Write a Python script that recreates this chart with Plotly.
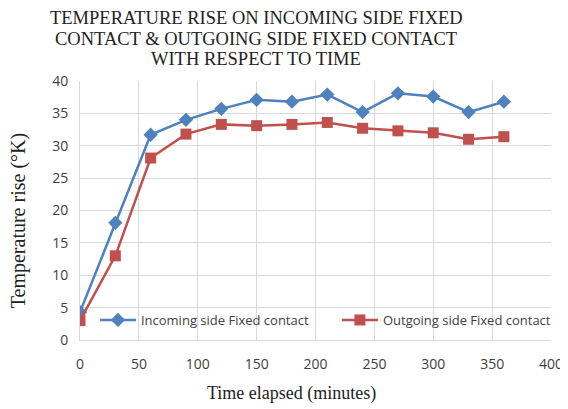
import plotly.graph_objects as go

time_min = [0, 30, 60, 90, 120, 150, 180, 210, 240, 270, 300, 330, 360]
incoming = [4.3, 18.1, 31.7, 34.0, 35.7, 37.1, 36.8, 37.9, 35.2, 38.1, 37.6, 35.2, 36.8]
outgoing = [3.0, 13.0, 28.1, 31.8, 33.3, 33.1, 33.3, 33.6, 32.7, 32.3, 32.0, 31.0, 31.4]
x_ticks = [0, 50, 100, 150, 200, 250, 300, 350, 400]
title_lines = ["TEMPERATURE RISE ON INCOMING SIDE FIXED",
               "CONTACT &amp; OUTGOING SIDE FIXED CONTACT",
               "WITH RESPECT TO TIME"]

# page body has an 8px margin, so the figure is offset by 8px
W, H = 560, 401
L, R, T, B = 72, 15, 73, 69
PW, PH = W - L - R, H - T - B

def px_x(x):
    return (x - L) / PW

def px_y(y):
    return (H - B - y) / PH

fig = go.Figure()
fig.add_trace(go.Scatter(x=time_min, y=incoming, mode="lines+markers",
                         name="Incoming side Fixed contact", legend="legend",
                         line=dict(color="#4F81BD", width=2.5),
                         marker=dict(symbol="diamond", size=11, color="#4F81BD")))
fig.add_trace(go.Scatter(x=time_min, y=outgoing, mode="lines+markers",
                         name="Outgoing side Fixed contact", legend="legend2",
                         line=dict(color="#C0504D", width=2.5),
                         marker=dict(symbol="square", size=11, color="#C0504D")))

annos = []
for line, yy in zip(title_lines, [10, 30.5, 51]):
    annos.append(dict(text=line, xref="paper", yref="paper", x=px_x(249), y=px_y(yy),
                      xanchor="center", yanchor="middle", showarrow=False,
                      font=dict(family="Liberation Serif", size=18.5, color="#222222")))
annos.append(dict(text="Time elapsed (minutes)", xref="paper", yref="paper",
                  x=px_x(284), y=px_y(385), xanchor="center", yanchor="middle", showarrow=False,
                  font=dict(family="Liberation Serif", size=18, color="#222222")))
annos.append(dict(text="Temperature rise (°K)", xref="paper", yref="paper",
                  x=px_x(10), y=px_y(213), xanchor="center", yanchor="middle", showarrow=False,
                  textangle=-90,
                  font=dict(family="Liberation Serif", size=20, color="#222222")))

leg_common = dict(orientation="h", xanchor="left", yanchor="middle",
                  bgcolor="rgba(0,0,0,0)", font=dict(family="Open Sans", size=13, color="#404040"),
                  itemwidth=36, tracegroupgap=0)

fig.update_layout(
    width=W, height=H,
    margin=dict(l=L, r=R, t=T, b=B),
    paper_bgcolor="white", plot_bgcolor="white",
    legend=dict(x=px_x(87), y=px_y(312), **leg_common),
    legend2=dict(x=px_x(330), y=px_y(312), **leg_common),
    showlegend=True,
    annotations=annos,
)
fig.update_xaxes(range=[0, 400], tickvals=x_ticks, showgrid=True, gridcolor="#D9D9D9", gridwidth=1,
                 zeroline=False, showline=True, linecolor="#D9D9D9", automargin=False,
                 ticklabelstandoff=11,
                 tickfont=dict(family="Open Sans", size=14, color="#404040"))
fig.update_yaxes(range=[0, 40], dtick=5, showgrid=True, gridcolor="#D9D9D9", gridwidth=1,
                 zeroline=False, showline=True, linecolor="#D9D9D9", automargin=False,
                 ticklabelstandoff=8,
                 tickfont=dict(family="Open Sans", size=14, color="#404040"))

fig.write_html("out.html")
